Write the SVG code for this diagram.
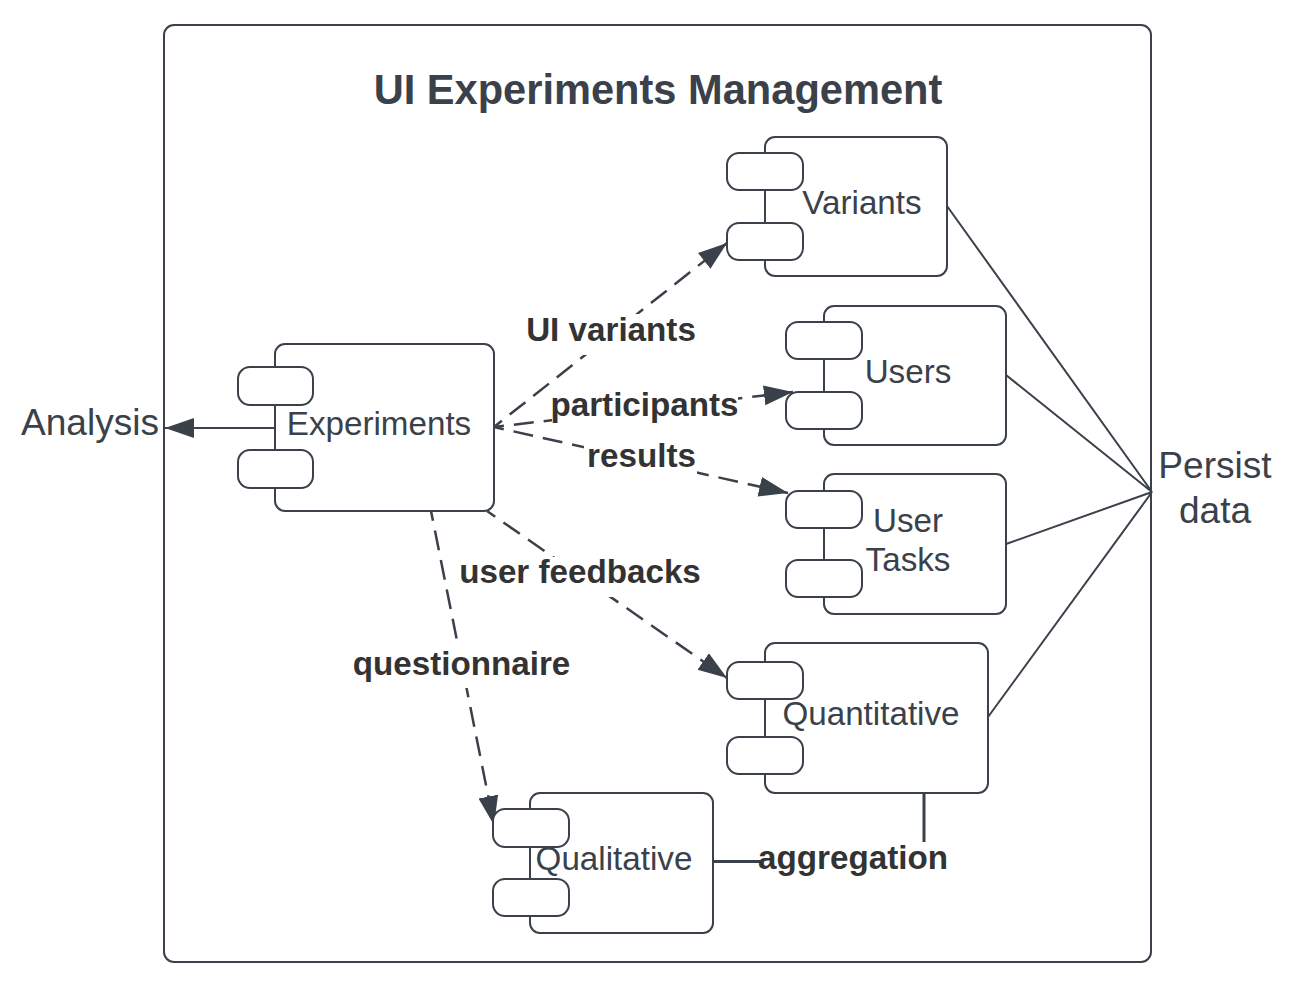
<svg xmlns="http://www.w3.org/2000/svg" width="1298" height="984" viewBox="0 0 1298 984">
<style>
text{font-family:"Liberation Sans",Arial,sans-serif;text-anchor:middle}
.t{font-size:33.200px;fill:#3a414a}
.b{font-size:33.200px;font-weight:bold;fill:#333}
.big{font-size:37.100px;fill:#3a414a}
.title{font-size:41.600px;font-weight:bold;fill:#3a414a}
.box{fill:#fff;stroke:#3a414a;stroke-width:2}
.l{fill:none;stroke:#3a414a;stroke-width:2}
.w{stroke-width:3}
.d{stroke-dasharray:20 10;stroke-dashoffset:10;stroke-width:2.500}
.a{marker-end:url(#arrow)}
.bg{fill:#fff}
</style>
<defs>
<marker id="arrow" markerUnits="userSpaceOnUse" markerWidth="30" markerHeight="22" refX="29" refY="11" orient="auto">
<path d="M0 1L29 11L0 21Z" fill="#3a414a"/>
</marker>
</defs>
<rect id="frame" class="box" x="164" y="25" width="987" height="937" rx="10"/>
<text id="title" class="title" x="658" y="104">UI Experiments Management</text>
<g id="connectors">
<path class="l a" d="M275 428H165"/>
<path class="l d a" d="M494 427L727 243"/>
<path class="l d a" d="M494 427L793 392"/>
<path class="l d a" d="M494 427L788 493"/>
<path class="l d a" d="M487 511L727 678"/>
<path class="l d a" d="M431 511L494 825"/>
<path class="l" d="M947 206L1152 492M1006 375L1152 492M1006 544L1152 492M988 717L1152 492"/>
<path class="l w" d="M714 861.500H760M924 793V842"/>
<rect class="bg" x="526" y="314" width="170" height="41"/>
<rect class="bg" x="552" y="386" width="186" height="38"/>
<rect class="bg" x="584" y="441" width="113" height="38"/>
<rect class="bg" x="459" y="557" width="242" height="40"/>
<rect class="bg" x="352" y="648" width="219" height="40"/>
<text class="b" x="611" y="341">UI variants</text>
<text class="b" x="644.500" y="416">participants</text>
<text class="b" x="641.500" y="467">results</text>
<text class="b" x="580" y="583">user feedbacks</text>
<text class="b" x="461.500" y="675">questionnaire</text>
<text class="b" x="853" y="869">aggregation</text>
<text class="big" x="90" y="435">Analysis</text>
<text class="big" x="1215" y="478">Persist</text>
<text class="big" x="1215" y="523">data</text>
</g>
<g id="experiments">
<rect class="box" x="275" y="344" width="219" height="167" rx="10"/>
<rect class="box" x="238" y="367" width="75" height="38" rx="12"/>
<rect class="box" x="238" y="450" width="75" height="38" rx="12"/>
<text class="t" x="379" y="435">Experiments</text>
</g>
<g id="variants">
<rect class="box" x="765" y="137" width="182" height="139" rx="10"/>
<rect class="box" x="727" y="153" width="76" height="37" rx="12"/>
<rect class="box" x="727" y="223" width="76" height="37" rx="12"/>
<text class="t" x="862" y="214">Variants</text>
</g>
<g id="users">
<rect class="box" x="824" y="306" width="182" height="139" rx="10"/>
<rect class="box" x="786" y="322" width="76" height="37" rx="12"/>
<rect class="box" x="786" y="392" width="76" height="37" rx="12"/>
<text class="t" x="908" y="383">Users</text>
</g>
<g id="user-tasks">
<rect class="box" x="824" y="474" width="182" height="140" rx="10"/>
<rect class="box" x="786" y="491" width="76" height="37" rx="12"/>
<rect class="box" x="786" y="560" width="76" height="37" rx="12"/>
<text class="t" x="908" y="531.500">User</text>
<text class="t" x="908" y="571">Tasks</text>
</g>
<g id="quantitative">
<rect class="box" x="765" y="643" width="223" height="150" rx="10"/>
<rect class="box" x="727" y="662" width="76" height="37" rx="12"/>
<rect class="box" x="727" y="737" width="76" height="37" rx="12"/>
<text class="t" x="871" y="725">Quantitative</text>
</g>
<g id="qualitative">
<rect class="box" x="530" y="793" width="183" height="140" rx="10"/>
<rect class="box" x="493" y="809" width="76" height="38" rx="12"/>
<rect class="box" x="493" y="879" width="76" height="37" rx="12"/>
<text class="t" x="614" y="869.500">Qualitative</text>
</g>
</svg>
